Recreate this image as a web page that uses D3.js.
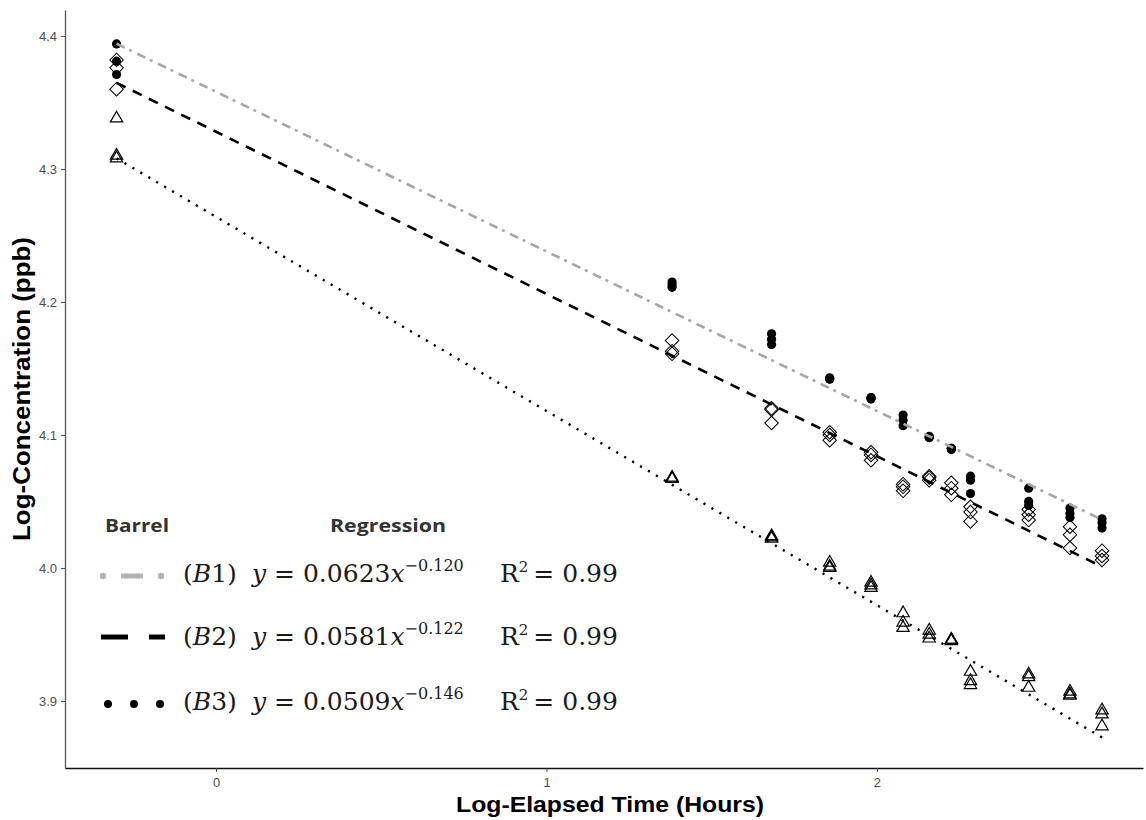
<!DOCTYPE html>
<html>
<head>
<meta charset="utf-8">
<script src="https://cdn.jsdelivr.net/npm/d3@7"></script>
<style>
  body { margin: 0; background: #fff; }
  .tick text { font-family: "Liberation Sans", Arial, sans-serif; font-size: 13px; fill: #4d4d4d; }
  .tick line { stroke: #4d4d4d; }
</style>
</head>
<body>
<div id="chart"></div>
<script>
  // log elapsed time (hours) of each sampling
  var times = [-0.301, 1.380, 1.681, 1.857, 1.982, 2.079, 2.158, 2.225, 2.283, 2.459, 2.584, 2.681];

  // log concentration replicates, one row per time
  var b1Values = [[4.394, 4.381, 4.371], [4.215, 4.213, 4.211], [4.176, 4.172, 4.168], [4.143, 4.142, 4.142],
      [4.128, 4.128, 4.127], [4.115, 4.111, 4.107], [4.099, 4.098, 4.098], [4.090, 4.090, 4.089],
      [4.069, 4.066, 4.056], [4.060, 4.050, 4.047], [4.045, 4.041, 4.038], [4.037, 4.034, 4.030]];
  var b2Values = [[4.382, 4.376, 4.360], [4.171, 4.163, 4.161], [4.120, 4.119, 4.109], [4.102, 4.100, 4.096],
      [4.087, 4.085, 4.081], [4.063, 4.061, 4.058], [4.069, 4.068, 4.066], [4.064, 4.060, 4.055],
      [4.046, 4.042, 4.035], [4.044, 4.040, 4.036], [4.031, 4.025, 4.015], [4.013, 4.009, 4.006]];
  var b3Values = [[4.338, 4.310, 4.308], [4.068, 4.067, 4.067], [4.024, 4.023, 4.022], [4.004, 4.001, 4.000],
      [3.989, 3.987, 3.985], [3.966, 3.959, 3.955], [3.953, 3.950, 3.947], [3.946, 3.946, 3.945],
      [3.922, 3.915, 3.912], [3.920, 3.918, 3.910], [3.907, 3.905, 3.904], [3.893, 3.890, 3.881]];

  // fitted lines in log space
  var fitIntercepts = [4.358, 4.328, 4.264];
  var fitSlopes = [-0.120, -0.122, -0.146];

  // legend text
  var barrels = ["B1", "B2", "B3"];
  var coefs = ["0.0623", "0.0581", "0.0509"];
  var exponents = ["\u22120.120", "\u22120.122", "\u22120.146"];
  var rSquared = ["0.99", "0.99", "0.99"];

  var xTicks = [0, 1, 2];
  var yTicks = [3.9, 4.0, 4.1, 4.2, 4.3, 4.4];

  var W = 1146, H = 820;
  var margin = {top: 10, right: 3, bottom: 52, left: 65};

  var svg = d3.select("#chart").append("svg")
      .attr("width", W)
      .attr("height", H);

  var x = d3.scaleLinear().domain([-0.457, 2.805]).range([margin.left, W - margin.right]);
  var y = d3.scaleLinear().domain([3.8496, 4.4195]).range([H - margin.bottom, margin.top]);

  // axes
  var xAxis = svg.append("g")
      .attr("transform", "translate(0," + (H - margin.bottom) + ")")
      .call(d3.axisBottom(x).tickValues(xTicks).tickFormat(d3.format("d")).tickSize(4).tickSizeOuter(0).tickPadding(6));
  xAxis.select(".domain").attr("stroke", "#111").attr("stroke-width", 1.6);

  var yAxis = svg.append("g")
      .attr("transform", "translate(" + margin.left + ",0)")
      .call(d3.axisLeft(y).tickValues(yTicks).tickFormat(d3.format(".1f")).tickSize(4).tickSizeOuter(0).tickPadding(4));
  yAxis.select(".domain").attr("stroke", "#555").attr("stroke-width", 1.3);

  // axis titles
  svg.append("text")
      .attr("x", (margin.left + W - margin.right) / 2 + 6)
      .attr("y", 812)
      .attr("text-anchor", "middle")
      .style("font-family", "Liberation Sans, Arial, sans-serif")
      .style("font-weight", "bold")
      .style("font-size", "22px")
      .attr("textLength", 308)
      .attr("lengthAdjust", "spacingAndGlyphs")
      .text("Log-Elapsed Time (Hours)");

  svg.append("text")
      .attr("transform", "translate(30," + (margin.top + H - margin.bottom) / 2 + ") rotate(-90)")
      .attr("text-anchor", "middle")
      .style("font-family", "Liberation Sans, Arial, sans-serif")
      .style("font-weight", "bold")
      .style("font-size", "23px")
      .attr("textLength", 304)
      .attr("lengthAdjust", "spacingAndGlyphs")
      .text("Log-Concentration (ppb)");

  function flatten(values) {
      var out = [];
      values.forEach(function (row, i) {
          row.forEach(function (v) { out.push({t: times[i], v: v}); });
      });
      return out;
  }

  // B1 filled circles
  svg.append("g").selectAll("circle")
      .data(flatten(b1Values))
      .enter().append("circle")
      .attr("cx", function (d) { return x(d.t); })
      .attr("cy", function (d) { return y(d.v); })
      .attr("r", 4.6)
      .attr("fill", "#000");

  // B2 open diamonds
  svg.append("g").selectAll("path")
      .data(flatten(b2Values))
      .enter().append("path")
      .attr("d", d3.symbol().type(d3.symbolSquare).size(92))
      .attr("transform", function (d) { return "translate(" + x(d.t) + "," + y(d.v) + ") rotate(45)"; })
      .attr("fill", "none")
      .attr("stroke", "#000")
      .attr("stroke-width", 1);

  // B3 open triangles
  svg.append("g").selectAll("path")
      .data(flatten(b3Values))
      .enter().append("path")
      .attr("d", d3.symbol().type(d3.symbolTriangle).size(66))
      .attr("transform", function (d) { return "translate(" + x(d.t) + "," + y(d.v) + ")"; })
      .attr("fill", "none")
      .attr("stroke", "#000")
      .attr("stroke-width", 1.2);

  // regression lines
  var lineStyles = [
      {color: "#a6a6a6", dash: "9,5,3,6", width: 2.6},
      {color: "#000", dash: "10,8", width: 2.6},
      {color: "#000", dash: "2.2,7", width: 2.4}
  ];
  var tRange = d3.extent(times);
  fitIntercepts.forEach(function (a, i) {
      var pts = tRange.map(function (t) { return [t, a + fitSlopes[i] * t]; });
      svg.append("path")
          .datum(pts)
          .attr("d", d3.line().x(function (d) { return x(d[0]); }).y(function (d) { return y(d[1]); }))
          .attr("fill", "none")
          .attr("stroke", lineStyles[i].color)
          .attr("stroke-width", lineStyles[i].width)
          .attr("stroke-dasharray", lineStyles[i].dash);
  });

  // legend
  var legend = svg.append("g");
  legend.append("text").attr("x", 105).attr("y", 532)
      .style("font-family", "Open Sans, sans-serif").style("font-weight", "bold").style("font-size", "18px")
      .attr("textLength", 64).attr("lengthAdjust", "spacingAndGlyphs")
      .attr("fill", "#333").text("Barrel");
  legend.append("text").attr("x", 330).attr("y", 532)
      .style("font-family", "Open Sans, sans-serif").style("font-weight", "bold").style("font-size", "18px")
      .attr("textLength", 116).attr("lengthAdjust", "spacingAndGlyphs")
      .attr("fill", "#333").text("Regression");

  var rowY = [582, 645, 710];

  // legend keys
  legend.append("circle").attr("cx", 103).attr("cy", rowY[0] - 6).attr("r", 3.2).attr("fill", "#b3b3b3");
  legend.append("line").attr("x1", 121).attr("x2", 143).attr("y1", rowY[0] - 6).attr("y2", rowY[0] - 6)
      .attr("stroke", "#b3b3b3").attr("stroke-width", 5);
  legend.append("circle").attr("cx", 161).attr("cy", rowY[0] - 6).attr("r", 3.2).attr("fill", "#b3b3b3");

  legend.append("line").attr("x1", 101).attr("x2", 128).attr("y1", rowY[1] - 8).attr("y2", rowY[1] - 8)
      .attr("stroke", "#000").attr("stroke-width", 5);
  legend.append("line").attr("x1", 149).attr("x2", 165).attr("y1", rowY[1] - 8).attr("y2", rowY[1] - 8)
      .attr("stroke", "#000").attr("stroke-width", 5);

  [108, 134, 160].forEach(function (cx) {
      legend.append("circle").attr("cx", cx).attr("cy", rowY[2] - 6).attr("r", 4).attr("fill", "#000");
  });

  barrels.forEach(function (b, i) {
      var lab = legend.append("text").attr("x", 183).attr("y", rowY[i])
          .style("font-family", "DejaVu Serif, serif").style("font-size", "25px").attr("fill", "#1a1a1a");
      lab.append("tspan").text("(");
      lab.append("tspan").style("font-style", "italic").text(b.charAt(0));
      lab.append("tspan").text(b.charAt(1) + ")");

      var eq = legend.append("text").attr("x", 252).attr("y", rowY[i])
          .style("font-family", "DejaVu Serif, serif").style("font-size", "25px").attr("fill", "#1a1a1a");
      eq.append("tspan").style("font-style", "italic").text("y");
      eq.append("tspan").text(" = " + coefs[i]);
      eq.append("tspan").style("font-style", "italic").text("x");
      eq.append("tspan").attr("dy", -11).style("font-size", "16px").text(exponents[i]);

      var r = legend.append("text").attr("x", 500).attr("y", rowY[i])
          .style("font-family", "DejaVu Serif, serif").style("font-size", "25px").attr("fill", "#1a1a1a");
      r.append("tspan").text("R");
      r.append("tspan").attr("dy", -10).style("font-size", "15px").text("2");
      r.append("tspan").attr("dy", 10).text("\u2009= " + rSquared[i]);
  });
</script>
</body>
</html>
